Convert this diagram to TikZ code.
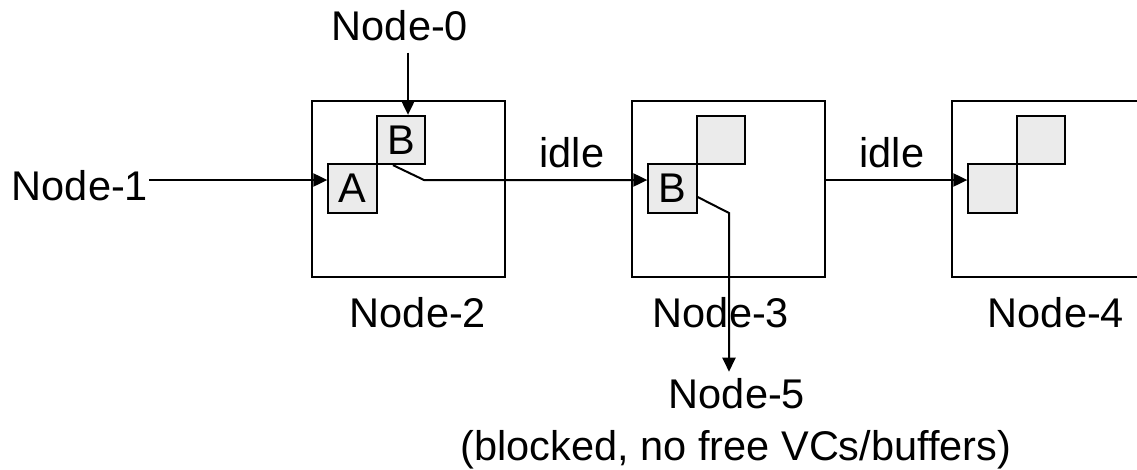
\documentclass[tikz,border=0pt]{standalone}
\usepackage{fontspec}
\setmainfont{Liberation Sans}
\usetikzlibrary{arrows.meta}
\begin{document}
\begin{tikzpicture}[x=1pt,y=-1pt,
  lbl/.style={inner sep=0pt, anchor=base, font=\fontsize{41.5}{50}\selectfont},
  router/.style={draw, line width=2pt, minimum width=193pt, minimum height=176pt, inner sep=0pt},
  buf/.style={draw, line width=1.8pt, fill=black!8, minimum size=48.5pt, inner sep=0pt, font=\fontsize{41.5}{50}\selectfont},
  arr/.style={line width=2pt, -{Triangle[length=14pt,width=13pt]}}]
\useasboundingbox (0,0) rectangle (1137,469);
\begin{scope}
\clip (0,0) rectangle (1137,469);
% routers
\node[router] (r2) at (408.5,189) {};
\node[router] (r3) at (728.5,189) {};
\node[router] (r4) at (1048.5,189) {};
% buffers
\node[buf] (a2) at (352.5,188.5) {A};
\node[buf] (b2) at (401,140) {B};
\node[buf] (b3) at (672.5,188.5) {B};
\node[buf] (e3) at (721,140) {};
\node[buf] (e4a) at (992.5,188.5) {};
\node[buf] (e4b) at (1041,140) {};
\end{scope}
% labels
\node[lbl] (n0) at (400,40) {Node-0};
\node[lbl] (n1) at (80,200) {Node-1};
\node[lbl] (n2) at (418,327) {Node-2};
\node[lbl] (n3) at (721,327) {Node-3};
\node[lbl] (n4) at (1056,327) {Node-4};
\node[lbl] (n5) at (737,408) {Node-5};
\node[lbl] (n5b) at (736,460) {(blocked, no free VCs/buffers)};
\node[lbl] (i1) at (572,167) {idle};
\node[lbl] (i2) at (892,167) {idle};
% helper coordinates
\coordinate (y1) at (0,180);
\coordinate (k1) at (424,180);
\coordinate (k2) at (729,213);
% connectors
\draw[arr] ([xshift=1pt]n1.east |- y1) -- (a2.west |- y1);
\draw[arr] ([xshift=8pt,yshift=-12pt]n0.south) -- ([xshift=7pt]b2.north);
\draw[arr] ([xshift=-8pt]b2.south) -- (k1) -- (b3.west |- y1);
\draw[arr] (r3.east |- y1) -- (e4a.west |- y1);
\draw[arr] ([yshift=-8.5pt]b3.east) -- (k2) -- ([yshift=6pt]n5.north -| k2);
\end{tikzpicture}
\end{document}
